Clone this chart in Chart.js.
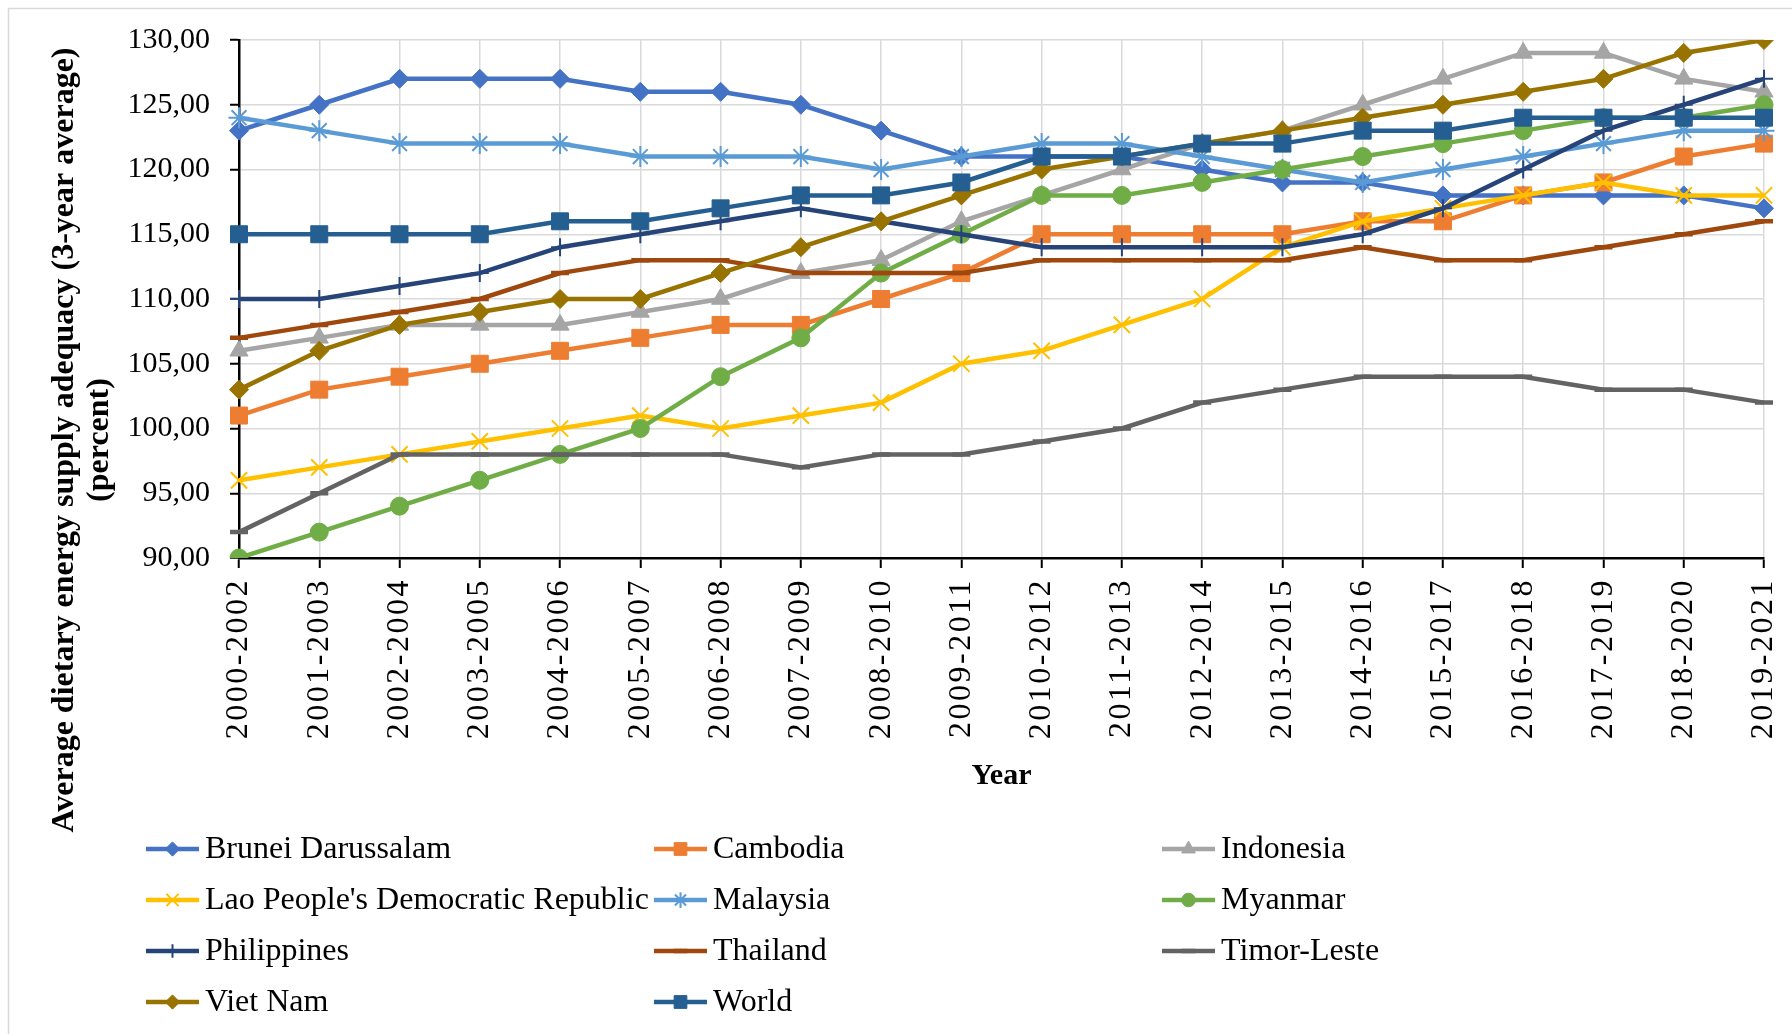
<!DOCTYPE html>
<html>
<head>
<meta charset="utf-8">
<script src="https://cdn.jsdelivr.net/npm/chart.js@4.4.1/dist/chart.umd.min.js"></script>
<style>
  html, body { margin: 0; padding: 0; background: #fff; }
  canvas { display: block; }
</style>
</head>
<body>
<canvas id="chart" width="1792" height="1034"></canvas>
<script>
// Three-year periods on the x axis
const periods = [
  '2000-2002', '2001-2003', '2002-2004', '2003-2005', '2004-2006',
  '2005-2007', '2006-2008', '2007-2009', '2008-2010', '2009-2011',
  '2010-2012', '2011-2013', '2012-2014', '2013-2015', '2014-2016',
  '2015-2017', '2016-2018', '2017-2019', '2018-2020', '2019-2021'
];

// Average dietary energy supply adequacy (percent), one array per country
const brunei      = [123, 125, 127, 127, 127, 126, 126, 125, 123, 121, 121, 121, 120, 119, 119, 118, 118, 118, 118, 117];
const cambodia    = [101, 103, 104, 105, 106, 107, 108, 108, 110, 112, 115, 115, 115, 115, 116, 116, 118, 119, 121, 122];
const indonesia   = [106, 107, 108, 108, 108, 109, 110, 112, 113, 116, 118, 120, 122, 123, 125, 127, 129, 129, 127, 126];
const lao         = [96, 97, 98, 99, 100, 101, 100, 101, 102, 105, 106, 108, 110, 114, 116, 117, 118, 119, 118, 118];
const malaysia    = [124, 123, 122, 122, 122, 121, 121, 121, 120, 121, 122, 122, 121, 120, 119, 120, 121, 122, 123, 123];
const myanmar     = [90, 92, 94, 96, 98, 100, 104, 107, 112, 115, 118, 118, 119, 120, 121, 122, 123, 124, 124, 125];
const philippines = [110, 110, 111, 112, 114, 115, 116, 117, 116, 115, 114, 114, 114, 114, 115, 117, 120, 123, 125, 127];
const thailand    = [107, 108, 109, 110, 112, 113, 113, 112, 112, 112, 113, 113, 113, 113, 114, 113, 113, 114, 115, 116];
const timorLeste  = [92, 95, 98, 98, 98, 98, 98, 97, 98, 98, 99, 100, 102, 103, 104, 104, 104, 103, 103, 102];
const vietNam     = [103, 106, 108, 109, 110, 110, 112, 114, 116, 118, 120, 121, 122, 123, 124, 125, 126, 127, 129, 130];
const world       = [115, 115, 115, 115, 116, 116, 117, 118, 118, 119, 121, 121, 122, 122, 123, 123, 124, 124, 124, 124];

// Y axis range and step
const yMin = 90;
const yMax = 130;
const yStep = 5;

const yTitleLines = ['Average dietary energy supply adequacy (3-year average)', '(percent)'];
const xTitle = 'Year';

const FONT = '"Liberation Serif", "Times New Roman", serif';

// name, values, colour, marker, marker radius, marker border width
const seriesDefs = [
  ['Brunei Darussalam', brunei, '#4472C4', 'rectRot', 9.5, 1],
  ['Cambodia', cambodia, '#ED7D31', 'rect', 12, 1],
  ['Indonesia', indonesia, '#A5A5A5', 'triangle', 10.5, 1],
  ["Lao People's Democratic Republic", lao, '#FFC000', 'crossRot', 11.5, 2],
  ['Malaysia', malaysia, '#5B9BD5', 'star', 10.5, 2],
  ['Myanmar', myanmar, '#70AD47', 'circle', 9, 1],
  ['Philippines', philippines, '#264478', 'cross', 9, 2],
  ['Thailand', thailand, '#9E480E', 'line', 9, 4.5],
  ['Timor-Leste', timorLeste, '#636363', 'line', 9, 4.5],
  ['Viet Nam', vietNam, '#997300', 'rectRot', 9.5, 1],
  ['World', world, '#255E91', 'rect', 12, 1]
];

const datasets = seriesDefs.map(([label, data, color, style, radius, bw], i) => ({
  label,
  data,
  borderColor: color,
  backgroundColor: color,
  borderWidth: 4.5,
  tension: 0,
  pointStyle: style,
  pointRadius: radius,
  pointHoverRadius: radius,
  pointBackgroundColor: color,
  pointBorderColor: color,
  pointBorderWidth: bw,
  order: seriesDefs.length - i
}));

// White page plus the thin frame on the top and left
const framePlugin = {
  id: 'frame',
  beforeDraw(chart) {
    const ctx = chart.ctx;
    ctx.save();
    ctx.fillStyle = '#fff';
    ctx.fillRect(0, 0, chart.width, chart.height);
    ctx.strokeStyle = '#d9d9d9';
    ctx.lineWidth = 1.5;
    ctx.beginPath();
    ctx.moveTo(8.5, chart.height);
    ctx.lineTo(8.5, 8.5);
    ctx.lineTo(chart.width, 8.5);
    ctx.stroke();
    ctx.restore();

    // slightly looser letter spacing for the period labels only
    const xs = chart.scales.x;
    if (xs && !xs._spacedLabels) {
      const drawLabels = xs.drawLabels.bind(xs);
      xs.drawLabels = (area) => {
        const c = chart.ctx;
        c.save();
        c.letterSpacing = '2.5px';
        drawLabels(area);
        c.restore();
      };
      xs._spacedLabels = true;
    }
  }
};

// Two-line rotated y axis title
const yTitlePlugin = {
  id: 'yTitle',
  afterDraw(chart) {
    const ctx = chart.ctx;
    ctx.save();
    ctx.font = 'bold 32px ' + FONT;
    ctx.fillStyle = '#000';
    ctx.textAlign = 'center';
    ctx.textBaseline = 'middle';
    ctx.translate(65, 440);
    ctx.rotate(-Math.PI / 2);
    ctx.fillText(yTitleLines[0], 0, 0);
    ctx.fillText(yTitleLines[1], 0, 35);
    ctx.restore();
  }
};

// Legend laid out in three columns under the x axis
const gridLegendPlugin = {
  id: 'gridLegend',
  afterDraw(chart) {
    const ctx = chart.ctx;
    const cols = [146, 654, 1162];
    const rows = [849, 900, 951, 1002];
    chart.data.datasets.forEach((ds, i) => {
      const x = cols[i % 3];
      const y = rows[Math.floor(i / 3)];
      ctx.save();
      ctx.strokeStyle = ds.borderColor;
      ctx.lineWidth = 4.5;
      ctx.beginPath();
      ctx.moveTo(x, y);
      ctx.lineTo(x + 53, y);
      ctx.stroke();
      ctx.fillStyle = ds.pointBackgroundColor;
      ctx.strokeStyle = ds.pointBorderColor;
      ctx.lineWidth = ds.pointBorderWidth;
      Chart.helpers.drawPoint(ctx, {
        pointStyle: ds.pointStyle,
        radius: ds.pointRadius * 0.75,
        borderWidth: ds.pointBorderWidth,
        rotation: 0
      }, x + 26.5, y);
      ctx.fillStyle = '#000';
      ctx.font = '32px ' + FONT;
      ctx.textAlign = 'left';
      ctx.textBaseline = 'middle';
      ctx.fillText(ds.label, x + 59, y + 1);
      ctx.restore();
    });
  }
};

new Chart(document.getElementById('chart'), {
  type: 'line',
  data: { labels: periods, datasets },
  plugins: [framePlugin, yTitlePlugin, gridLegendPlugin],
  options: {
    responsive: false,
    animation: false,
    devicePixelRatio: 1,
    layout: { padding: { left: 0, top: 40, right: 28, bottom: 240 } },
    plugins: {
      legend: { display: false },
      tooltip: { enabled: false }
    },
    scales: {
      x: {
        type: 'category',
        offset: false,
        grid: { color: '#d9d9d9', lineWidth: 1.5, tickColor: '#000', tickLength: 10, tickWidth: 2 },
        border: { color: '#000', width: 2.5 },
        ticks: {
          autoSkip: false,
          minRotation: 90,
          maxRotation: 90,
          color: '#000',
          padding: 10,
          font: { family: FONT, size: 32 }
        },
        title: {
          display: true,
          text: xTitle,
          color: '#000',
          padding: 0,
          font: { family: FONT, size: 30, weight: 'bold' }
        },
        afterFit(scale) {
          scale.height = 236;
          scale.paddingLeft = 0;
          scale.paddingRight = 0;
        }
      },
      y: {
        min: yMin,
        max: yMax,
        grid: { color: '#d9d9d9', lineWidth: 1.5, tickColor: '#000', tickLength: 9, tickWidth: 2 },
        border: { color: '#000', width: 2.5 },
        ticks: {
          stepSize: yStep,
          color: '#000',
          padding: 20,
          font: { family: FONT, size: 30 },
          callback: v => v.toFixed(2).replace('.', ',')
        },
        afterFit(scale) { scale.width = 239; }
      }
    }
  }
});
</script>
</body>
</html>
